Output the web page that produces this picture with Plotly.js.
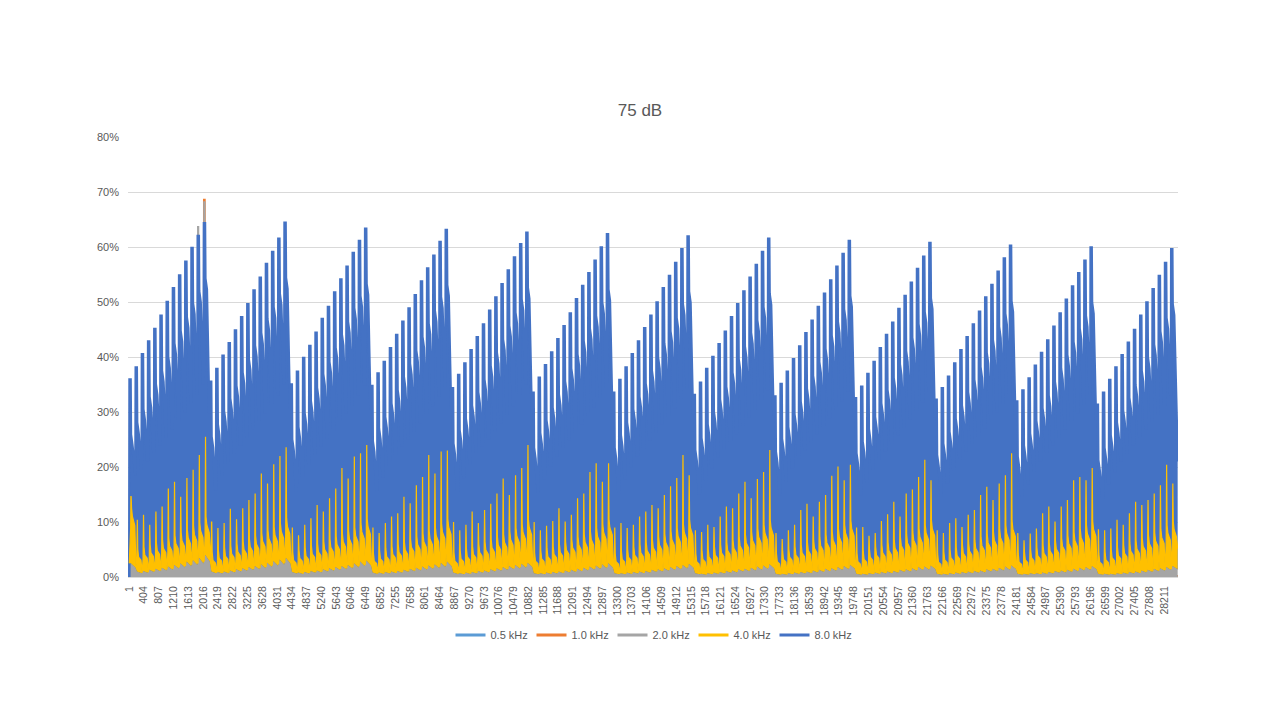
<!DOCTYPE html>
<html>
<head>
<meta charset="utf-8">
<script src="https://cdn.plot.ly/plotly-3.0.1.min.js"></script>
<style>
  html, body { margin: 0; padding: 0; background: #fff; }
  #graph { width: 1280px; height: 720px; }
</style>
</head>
<body>
<div id="graph"></div>
<script>
// category labels shown on the x axis (every 403rd sample)
var xLabels = [1, 404, 807, 1210, 1613, 2016, 2419, 2822, 3225, 3628, 4031, 4434, 4837, 5240,
	5643, 6046, 6449, 6852, 7255, 7658, 8061, 8464, 8867, 9270, 9673, 10076, 10479, 10882,
	11285, 11688, 12091, 12494, 12897, 13300, 13703, 14106, 14509, 14912, 15315, 15718, 16121,
	16524, 16927, 17330, 17733, 18136, 18539, 18942, 19345, 19748, 20151, 20554, 20957, 21360,
	21763, 22166, 22569, 22972, 23375, 23778, 24181, 24584, 24987, 25390, 25793, 26196, 26599,
	27002, 27405, 27808, 28211];

var seriesNames = ["0.5 kHz", "1.0 kHz", "2.0 kHz", "4.0 kHz", "8.0 kHz"];
var seriesColors = ["#5B9BD5", "#ED7D31", "#A5A5A5", "#FFC000", "#4472C4"];

const firstSample = 1;
const lastSample = 28575;
const burstGap = 169; // samples from one burst to the next

// 8.0 kHz: peak of every burst, one row per sweep (13 bursts each), in %
var bluePeak = [
	[35.9, 38.1, 40.5, 42.8, 45.1, 47.5, 50.0, 52.5, 54.8, 57.3, 59.8, 62.0, 64.3],
	[35.5, 37.8, 40.2, 42.5, 44.8, 47.2, 49.6, 52.1, 54.4, 56.9, 59.1, 61.5, 64.4],
	[35.0, 37.3, 39.8, 42.0, 44.4, 46.9, 49.1, 51.7, 54.1, 56.4, 58.9, 61.1, 63.3],
	[34.7, 37.0, 39.1, 41.6, 44.0, 46.4, 48.8, 51.2, 53.7, 56.1, 58.4, 60.9, 63.1],
	[34.3, 36.7, 38.8, 41.2, 43.6, 45.9, 48.4, 50.8, 53.2, 55.7, 58.1, 60.5, 62.6],
	[33.5, 36.2, 38.5, 40.8, 43.2, 45.6, 47.9, 50.5, 52.9, 55.2, 57.5, 59.9, 62.3],
	[33.5, 35.8, 38.1, 40.5, 42.8, 45.2, 47.5, 49.9, 52.5, 54.7, 57.1, 59.6, 61.9],
	[33.1, 35.3, 37.8, 40.0, 42.3, 44.6, 47.2, 49.6, 51.9, 54.4, 56.7, 59.1, 61.5],
	[32.8, 35.1, 37.3, 39.6, 41.9, 44.3, 46.6, 49.1, 51.5, 53.9, 56.4, 58.7, 61.1],
	[32.5, 34.6, 36.9, 39.1, 41.6, 44.0, 46.2, 48.7, 51.1, 53.5, 56.0, 58.2, 60.7],
	[32.2, 34.3, 36.4, 38.8, 41.2, 43.6, 45.9, 48.2, 50.8, 53.1, 55.5, 57.9, 60.2],
	[31.9, 33.9, 36.1, 38.4, 40.7, 43.0, 45.5, 47.9, 50.4, 52.8, 55.2, 57.5, 59.9],
	[31.3, 33.5, 35.8, 38.1, 40.3, 42.6, 44.9, 47.5, 49.9, 52.3, 54.7, 57.1, 59.6]
];

// 8.0 kHz: level it falls back to before the next burst
var blueNotch = [
	[18.5, 19.8, 21.3, 22.8, 24.2, 25.6, 27.0, 28.6, 30.1, 31.7, 33.4, 35.3, 30.0],
	[16.0, 18.6, 20.8, 22.6, 24.1, 25.6, 27.0, 28.5, 30.0, 31.6, 33.3, 35.2, 30.8],
	[15.8, 18.4, 20.6, 22.5, 24.0, 25.4, 26.8, 28.4, 29.9, 31.4, 33.2, 35.0, 30.6],
	[15.7, 18.3, 20.5, 22.4, 23.9, 25.3, 26.7, 28.2, 29.8, 31.3, 33.0, 34.8, 30.4],
	[15.8, 18.2, 20.7, 22.8, 24.0, 25.3, 26.7, 28.2, 29.8, 31.3, 33.4, 35.2, 30.2],
	[15.5, 18.0, 20.3, 22.2, 23.7, 25.1, 26.5, 28.0, 29.5, 31.0, 32.8, 34.6, 30.0],
	[15.4, 17.9, 20.2, 22.1, 23.6, 25.0, 26.4, 27.9, 29.4, 30.9, 32.6, 34.4, 29.8],
	[15.2, 17.7, 20.0, 21.9, 23.4, 24.8, 26.2, 27.7, 29.2, 30.7, 32.4, 34.2, 29.6],
	[15.1, 17.6, 19.9, 21.8, 23.3, 24.7, 26.1, 27.6, 29.1, 30.6, 32.2, 34.0, 29.4],
	[15.0, 17.4, 19.7, 21.6, 23.1, 24.5, 25.9, 27.4, 28.9, 30.4, 32.0, 33.8, 29.2],
	[14.8, 17.3, 19.6, 21.5, 23.0, 24.4, 25.8, 27.3, 28.8, 30.2, 31.8, 33.6, 29.0],
	[14.7, 17.1, 19.4, 21.3, 22.8, 24.2, 25.6, 27.1, 28.6, 30.0, 31.6, 33.4, 28.8],
	[14.5, 17.0, 19.3, 21.2, 22.7, 24.1, 25.5, 27.0, 28.4, 29.8, 31.4, 33.2, 21.0]
];

// 4.0 kHz: thin spike at the start of each burst
var yellowSpike = [
	[14.6, 10.4, 11.3, 9.5, 11.9, 12.8, 16.1, 17.3, 14.6, 18.0, 19.5, 22.2, 25.5],
	[10.0, 8.9, 9.8, 12.4, 10.5, 12.5, 14.0, 15.2, 18.8, 17.0, 20.5, 22.0, 23.6],
	[9.0, 7.6, 9.5, 10.7, 13.1, 11.9, 14.3, 16.1, 19.8, 17.9, 21.9, 22.5, 24.0],
	[9.0, 8.0, 9.8, 11.0, 11.6, 14.6, 13.4, 16.7, 18.2, 22.2, 18.8, 22.8, 23.0],
	[10.0, 8.5, 9.5, 11.9, 9.8, 12.2, 13.3, 15.2, 17.9, 14.9, 18.5, 19.8, 24.0],
	[10.0, 8.5, 9.3, 10.2, 12.5, 10.1, 11.3, 14.3, 15.2, 19.1, 20.7, 17.3, 20.7],
	[9.0, 9.8, 8.9, 9.5, 11.0, 11.9, 13.1, 12.5, 14.9, 16.5, 18.0, 22.2, 18.5],
	[8.5, 8.2, 9.5, 9.1, 11.0, 12.8, 12.5, 15.2, 17.3, 14.3, 17.8, 19.1, 23.1],
	[8.0, 6.9, 8.5, 9.5, 12.2, 13.3, 11.0, 13.7, 14.9, 18.4, 20.1, 17.6, 20.4],
	[9.0, 9.1, 7.5, 8.0, 10.2, 11.4, 13.7, 11.0, 15.2, 15.9, 18.2, 21.3, 17.6],
	[8.5, 8.0, 9.8, 10.7, 9.1, 11.3, 12.2, 14.9, 16.4, 14.0, 17.0, 18.5, 22.5],
	[8.0, 6.7, 7.9, 8.8, 11.6, 12.8, 10.1, 12.8, 14.0, 17.6, 18.2, 17.6, 19.8],
	[8.7, 8.5, 8.8, 10.4, 9.5, 11.6, 13.7, 13.1, 14.0, 15.2, 16.7, 20.4, 17.0]
];

// 4.0 kHz: level of the body right after the spike
var yellowBody = [
	[11.0, 3.6, 4.0, 4.4, 4.8, 5.2, 5.6, 6.1, 6.6, 7.1, 7.7, 8.4, 9.5],
	[3.0, 3.4, 3.8, 4.2, 4.6, 5.0, 5.5, 6.0, 6.5, 7.0, 7.6, 8.3, 9.2],
	[3.0, 3.4, 3.8, 4.2, 4.6, 5.0, 5.4, 5.9, 6.4, 6.9, 7.5, 8.2, 9.1],
	[2.9, 3.3, 3.7, 4.1, 4.5, 4.9, 5.4, 5.9, 6.4, 6.9, 7.5, 8.2, 9.1],
	[2.9, 3.3, 3.7, 4.1, 4.5, 4.9, 5.3, 5.8, 6.3, 6.8, 7.4, 8.1, 9.0],
	[2.9, 3.3, 3.7, 4.1, 4.5, 4.9, 5.3, 5.8, 6.3, 6.8, 7.4, 8.1, 9.0],
	[2.8, 3.2, 3.6, 4.0, 4.4, 4.8, 5.3, 5.8, 6.3, 6.8, 7.4, 8.1, 8.9],
	[2.8, 3.2, 3.6, 4.0, 4.4, 4.8, 5.2, 5.7, 6.2, 6.7, 7.3, 8.0, 8.9],
	[2.8, 3.2, 3.6, 4.0, 4.4, 4.8, 5.2, 5.7, 6.2, 6.7, 7.3, 8.0, 8.8],
	[2.8, 3.2, 3.6, 4.0, 4.4, 4.8, 5.2, 5.7, 6.2, 6.7, 7.3, 8.0, 8.8],
	[2.7, 3.1, 3.5, 3.9, 4.3, 4.7, 5.2, 5.7, 6.2, 6.7, 7.2, 7.9, 8.7],
	[2.7, 3.1, 3.5, 3.9, 4.3, 4.7, 5.1, 5.6, 6.1, 6.6, 7.2, 7.9, 8.7],
	[2.7, 3.1, 3.5, 3.9, 4.3, 4.7, 5.1, 5.6, 6.1, 6.6, 7.2, 7.9, 8.6]
];

// 2.0 kHz: body level of each burst
var greyBody = [
	[2.5, 1.0, 1.1, 1.3, 1.5, 1.7, 1.9, 2.2, 2.5, 2.8, 3.1, 3.5, 4.0],
	[1.0, 0.9, 1.0, 1.2, 1.4, 1.6, 1.8, 2.0, 2.3, 2.6, 2.9, 3.2, 3.5],
	[0.9, 0.8, 0.9, 1.1, 1.2, 1.4, 1.6, 1.8, 2.0, 2.2, 2.5, 2.8, 3.0],
	[0.8, 0.8, 0.9, 1.0, 1.1, 1.3, 1.5, 1.7, 1.9, 2.1, 2.3, 2.6, 2.8],
	[0.8, 0.7, 0.8, 0.9, 1.1, 1.2, 1.4, 1.6, 1.8, 2.0, 2.2, 2.4, 2.6],
	[0.7, 0.7, 0.8, 0.9, 1.0, 1.2, 1.3, 1.5, 1.7, 1.9, 2.1, 2.3, 2.5],
	[0.7, 0.7, 0.8, 0.9, 1.0, 1.1, 1.3, 1.4, 1.6, 1.8, 2.0, 2.2, 2.4],
	[0.7, 0.6, 0.7, 0.8, 0.9, 1.1, 1.2, 1.4, 1.5, 1.7, 1.9, 2.1, 2.3],
	[0.6, 0.6, 0.7, 0.8, 0.9, 1.0, 1.2, 1.3, 1.5, 1.6, 1.8, 2.0, 2.2],
	[0.6, 0.6, 0.7, 0.8, 0.9, 1.0, 1.1, 1.3, 1.4, 1.6, 1.8, 1.9, 2.1],
	[0.6, 0.6, 0.7, 0.8, 0.9, 1.0, 1.1, 1.2, 1.4, 1.5, 1.7, 1.9, 2.1],
	[0.6, 0.6, 0.7, 0.7, 0.8, 0.9, 1.1, 1.2, 1.3, 1.5, 1.7, 1.8, 2.0],
	[0.6, 0.6, 0.6, 0.7, 0.8, 0.9, 1.0, 1.2, 1.3, 1.5, 1.6, 1.8, 2.0]
];

// the two low bands barely leave the axis: same level for each burst position
var orangeLevel = [0.6, 0.5, 0.6, 0.6, 0.7, 0.7, 0.8, 0.8, 0.9, 0.9, 1.0, 1.0, 1.1];
var lightBlueLevel = [0.3, 0.3, 0.3, 0.3, 0.3, 0.4, 0.4, 0.4, 0.4, 0.4, 0.5, 0.5, 0.5];

// the odd burst near sample 2016 where 2.0 and 1.0 kHz jump above 8.0 kHz
var greyPeak = [{cycle: 0, burst: 11, value: 63.7}, {cycle: 0, burst: 12, value: 68.2}];
var orangePeak = [{cycle: 0, burst: 12, value: 68.6}];

function burstStart(c, k) {
	return firstSample + (c * 13 + k) * burstGap;
}

function isLast(c, k) {
	return c === bluePeak.length - 1 && k === 12;
}

function findPeak(list, c, k) {
	for (var i = 0; i < list.length; i++)
		if (list[i].cycle === c && list[i].burst === k) return list[i].value;
	return null;
}

function bluePath() {
	var x = [], y = [], prev = 0;
	bluePeak.forEach(function(row, c) {
		row.forEach(function(p, k) {
			var x0 = burstStart(c, k), n = blueNotch[c][k];
			x.push(x0, x0 + 8, x0 + 34, x0 + 44, x0 + 85);
			y.push(prev, p, p, p - 10, p - 12);
			if (isLast(c, k)) { x.push(lastSample); y.push(n); }
			else { x.push(x0 + 150, x0 + burstGap - 1); y.push(n, n); }
			prev = n;
		});
	});
	return {x: x, y: y};
}

function greyPath(withPeaks) {
	var x = [firstSample], y = [greyBody[0][0]], tail = greyBody[0][0];
	greyBody.forEach(function(row, c) {
		row.forEach(function(g, k) {
			var x0 = burstStart(c, k);
			var v = withPeaks ? findPeak(greyPeak, c, k) : null;
			if (v !== null) {
				x.push(x0 + 4, x0 + 8, x0 + 28, x0 + 34);
				y.push(tail, v, v, tail);
			}
			x.push(x0 + 40, isLast(c, k) ? lastSample : x0 + 165);
			y.push(g, g * 0.7);
			tail = g * 0.7;
		});
	});
	return {x: x, y: y};
}

function yellowPath() {
	var x = [firstSample], y = [greyBody[0][0]];
	yellowSpike.forEach(function(row, c) {
		row.forEach(function(s, k) {
			var x0 = burstStart(c, k), b = yellowBody[c][k], g = greyBody[c][k];
			x.push(x0 + 38, x0 + 44, x0 + 50, x0 + 62, x0 + 85, x0 + 150);
			y.push(b * 0.8, s, s, b + 1.5, b, b * 0.85);
			if (isLast(c, k)) { x.push(lastSample); y.push(b * 0.6); }
			else { x.push(x0 + 182); y.push(g * 0.8); }
		});
	});
	return {x: x, y: y};
}

function lowPath(levels, peaks) {
	var x = [], y = [], base = 0.15;
	bluePeak.forEach(function(row, c) {
		row.forEach(function(p, k) {
			var x0 = burstStart(c, k), o = levels[k];
			var v = peaks ? findPeak(peaks, c, k) : null;
			if (v !== null) {
				x.push(x0 + 4, x0 + 8, x0 + 28, x0 + 32);
				y.push(base, v, v, base);
			}
			x.push(x0 + 40, x0 + 46, x0 + 80, isLast(c, k) ? lastSample : x0 + 165);
			y.push(base, o, o * 0.4, base);
		});
	});
	return {x: x, y: y};
}

var blue = bluePath();
var greyFull = greyPath(true);
var greyLow = greyPath(false);
var yellow = yellowPath();
var orange = lowPath(orangeLevel, orangePeak);
var lightBlue = lowPath(lightBlueLevel, null);

function lineTrace(p, color, width) {
	return {x: p.x, y: p.y, type: 'scatter', mode: 'lines', showlegend: false,
		hoverinfo: 'skip', line: {color: color, width: width}};
}

function baseTrace(p) {
	return {x: p.x, y: p.y, type: 'scatter', mode: 'lines', showlegend: false,
		hoverinfo: 'skip', line: {width: 0, color: 'rgba(0,0,0,0)'}};
}

function bandTrace(p, color, width) {
	var t = lineTrace(p, color, width);
	t.fill = 'tonexty';
	t.fillcolor = color;
	return t;
}

var greyTrace = lineTrace(greyFull, seriesColors[2], 1.5);
greyTrace.fill = 'tozeroy';
greyTrace.fillcolor = seriesColors[2];

var data = [
	lineTrace(lightBlue, seriesColors[0], 1.5),
	lineTrace(orange, seriesColors[1], 2),
	greyTrace,
	baseTrace(greyLow),
	bandTrace(blue, seriesColors[4], 2.6),
	baseTrace(greyLow),
	bandTrace(yellow, seriesColors[3], 1.2)
];

// legend entries
seriesNames.forEach(function(name, i) {
	data.push({x: [null], y: [null], type: 'scatter', mode: 'lines', name: name,
		line: {color: seriesColors[i], width: 3}, hoverinfo: 'skip'});
});

var layout = {
	width: 1280,
	height: 720,
	paper_bgcolor: '#ffffff',
	plot_bgcolor: '#ffffff',
	font: {family: 'Liberation Sans, Arial, sans-serif', color: '#595959', size: 11},
	margin: {l: 128, r: 102, t: 137, b: 143, autoexpand: false},
	title: {
		text: '75 dB',
		x: 0.5, xanchor: 'center',
		y: 1 - 110 / 720, yanchor: 'middle',
		font: {size: 17, color: '#595959'}
	},
	xaxis: {
		type: 'linear',
		range: [-34, 28584],
		tickmode: 'array',
		tickvals: xLabels,
		ticktext: xLabels.map(String),
		tickangle: -90,
		tickfont: {size: 10.5, color: '#595959'},
		ticks: '',
		ticklabelstandoff: 4,
		showgrid: false,
		zeroline: false,
		showline: true,
		linecolor: '#D9D9D9',
		linewidth: 1,
		fixedrange: true
	},
	yaxis: {
		range: [0, 80],
		dtick: 10,
		ticksuffix: '%',
		tickfont: {size: 11, color: '#595959'},
		ticks: '',
		ticklabelstandoff: 8,
		showgrid: true,
		gridcolor: '#D9D9D9',
		gridwidth: 1,
		zeroline: false,
		showline: false,
		fixedrange: true
	},
	showlegend: true,
	legend: {
		orientation: 'h',
		traceorder: 'normal',
		x: 0.5, xanchor: 'center',
		y: -(635 - 577) / 440, yanchor: 'middle',
		font: {size: 11, color: '#595959'},
		entrywidth: 36,
		entrywidthmode: 'pixels',
		bgcolor: 'rgba(0,0,0,0)'
	},
	hovermode: false
};

var config = {displayModeBar: false, staticPlot: true};
Plotly.newPlot('graph', data, layout, config);
</script>
</body>
</html>
